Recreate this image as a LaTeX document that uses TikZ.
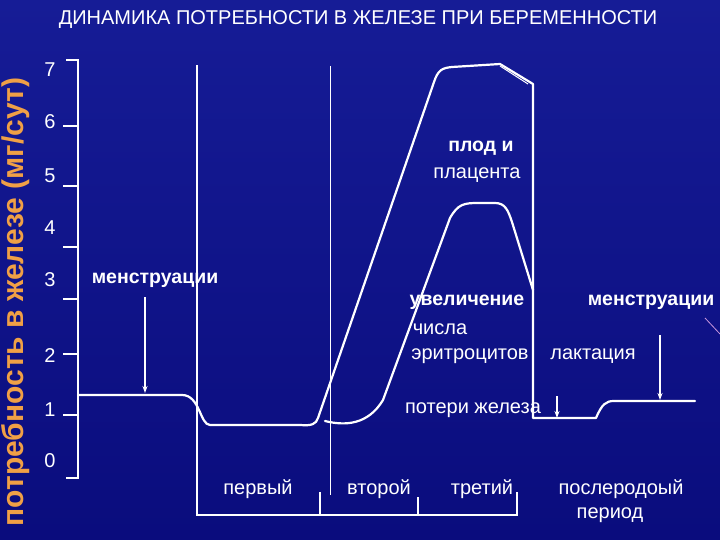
\documentclass[tikz,border=0pt]{standalone}
\usepackage{fontspec}
\setmainfont{Liberation Sans}
\usetikzlibrary{arrows.meta}
\definecolor{bgtop}{RGB}{22,28,150}
\definecolor{bgbot}{RGB}{10,12,125}
\definecolor{ylab}{RGB}{240,160,70}
\begin{document}
\begin{tikzpicture}[x=1pt,y=-1pt,
  curve/.style={white,line width=2.2pt,line cap=round,line join=round},
  axisline/.style={white,line width=1.4pt},
  thinline/.style={white,line width=0.8pt},
  arr/.style={white,line width=1.2pt,-{Stealth[length=7pt,width=5pt]}},
  lbl/.style={white,font=\fontsize{20}{22}\selectfont,inner sep=0pt},
  blbl/.style={white,font=\bfseries\fontsize{19.5}{22}\selectfont,inner sep=0pt},
  num/.style={white,font=\fontsize{20}{22}\selectfont,inner sep=0pt}]
\shade[top color=bgtop,bottom color=bgbot] (0,0) rectangle (720,540);
\useasboundingbox (0,0) rectangle (720,540);
% title and y label
\node[white,font=\fontsize{20}{22}\selectfont] (title) at (358,20) {ДИНАМИКА ПОТРЕБНОСТИ В ЖЕЛЕЗЕ ПРИ БЕРЕМЕННОСТИ};
\node[ylab,rotate=90,font=\bfseries\fontsize{30}{32}\selectfont,inner sep=0pt] (ylabel) at (16,302) {потребность в железе (мг/сут)};
% axis
\coordinate (atop) at (78,60); \coordinate (abot) at (78,478);
\draw[axisline] (66,60) -- (atop) -- (abot) -- (66,478);
\foreach \y in {126,186,247,299,354,415}{
  \draw[axisline] (63,\y) -- (78,\y);
}
\foreach \t/\ly in {7/70,6/122,5/176,4/228,3/280,2/356,1/410,0/461}{
  \node[num] (n\t) at (50,\ly) {\t};
}
% main curve
\draw[curve] (78,395) -- (182,395) .. controls (200,395) and (200,425) .. (210,425)
  -- (300,425) .. controls (312,426) and (316,424) .. (318,418)
  -- (434,82) .. controls (438,70) and (442,68) .. (452,67)
  -- (500,64) -- (533,84) -- (533,418) -- (596,418)
  .. controls (602,404) and (606,401) .. (614,401) -- (695,401);
\draw[white,line width=1pt] (500,66) -- (528,84);
% second curve
\draw[curve] (325,421) .. controls (345,426) and (368,425) .. (383,400)
  -- (450,218) .. controls (458,204) and (464,203) .. (478,203)
  -- (495,203) .. controls (505,203) and (508,210) .. (512,222) -- (533,290);
% thin verticals
\draw[thinline] (330,66) -- (330,495);
\draw[axisline] (197,65) -- (197,490);
% bracket
\coordinate (b0) at (197,515); \coordinate (b3) at (517,515);
\draw[axisline] (197,490) -- (b0) -- (b3) -- (517,492);
\draw[axisline] (320,492) -- (320,515);
\draw[axisline] (418,497) -- (418,515);
% arrows
\coordinate (m1a) at (145,297); \coordinate (m1b) at (145,393);
\draw[arr] (m1a) -- (m1b);
\coordinate (m2a) at (557,396); \coordinate (m2b) at (557,418);
\draw[arr] (m2a) -- (m2b);
\coordinate (m3a) at (660,335); \coordinate (m3b) at (660,400);
\draw[arr] (m3a) -- (m3b);
\draw[color={rgb,255:red,200;green,150;blue,220},line width=0.8pt] (705,318) -- (720,334);
% labels
\node[blbl] (t1) at (481,148) {плод и};
\node[lbl] (t2) at (477,175) {плацента};
\node[blbl] (t3) at (155,280) {менструации};
\node[blbl] (t4) at (467,302) {увеличение};
\node[lbl] (t5) at (440,329) {числа};
\node[lbl] (t6) at (470,356) {эритроцитов};
\node[lbl] (t7) at (593,356) {лактация};
\node[blbl] (t8) at (651,302) {менструации};
\node[lbl] (t9) at (473,410) {потери железа};
\node[lbl] (p1) at (258,489) {первый};
\node[lbl] (p2) at (379,489) {второй};
\node[lbl] (p3) at (482,489) {третий};
\node[lbl] (p4) at (621,489) {послеродоый};
\node[lbl] (p5) at (610,515) {период};
\end{tikzpicture}
\end{document}
